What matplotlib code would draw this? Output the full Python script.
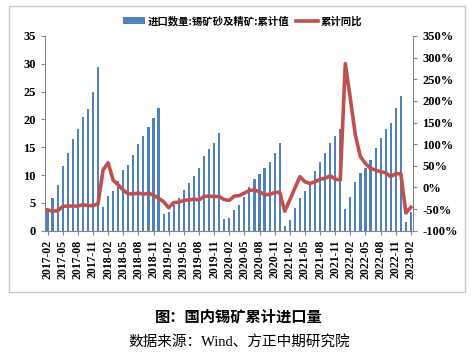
import matplotlib
matplotlib.use("Agg")
import matplotlib.pyplot as plt
from matplotlib.patches import Rectangle
from matplotlib.ticker import FuncFormatter

plt.rcParams['font.family'] = ['Noto Sans CJK SC', 'DejaVu Sans']

# 月份 2017-02 ... 2023-02
months = []
for y in range(2017, 2024):
    for m in range(1, 13):
        if (y == 2017 and m < 2) or (y == 2023 and m > 2):
            continue
        months.append(f"{y}-{m:02d}")

# 进口数量:锡矿砂及精矿:累计值 (万吨)
cum_import = [
    3.8, 5.8, 8.2, 11.6, 13.9, 16.4, 18.3, 20.5, 21.9, 24.9, 29.5,
    4.3, 6.3, 7.1, 8.9, 10.9, 11.8, 13.6, 15.5, 17.1, 18.6, 20.3, 22.1,
    3.0, 3.4, 4.6, 5.8, 7.3, 8.5, 9.8, 11.25, 13.4, 14.6, 15.7, 17.6,
    2.1, 2.3, 3.75, 4.7, 6.1, 7.8, 9.3, 10.2, 11.25, 12.3, 14.0, 15.7,
    0.9, 2.0, 4.0, 5.8, 7.1, 8.5, 10.7, 12.3, 13.9, 15.8, 17.0, 18.3,
    3.9, 6.0, 8.75, 10.3, 11.2, 12.7, 14.9, 16.7, 18.3, 19.4, 22.1, 24.2,
    1.5, 3.3,
]

# 累计同比 (%)
cum_yoy = [
    -52, -55, -54, -44, -43, -43, -43, -40, -42, -42, -38,
    40, 57, 17, 6, -6, -15, -15, -13, -16, -13, -18, -25,
    -33, -47, -35, -34, -30, -29, -27, -29, -21, -20, -21, -21,
    -28, -30, -20, -19, -13, -7, -6, -10, -17, -16, -12, -11,
    -55, -29, -2, 25, 13, 9, 13, 19, 21, 27, 19, 17,
    286, 205, 120, 71, 55, 44, 40, 36, 34, 25, 32, 31,
    -59, -46,
]

x = list(range(len(months)))
blue = '#4F81BD'
red = '#C0504D'
grey = '#868686'

fig = plt.figure(figsize=(4.73, 3.57), dpi=100)
fig.patches.append(Rectangle((9 / 473, 1 - 292 / 357), 456 / 473, 286 / 357,
                             transform=fig.transFigure, fill=False,
                             edgecolor='#C8C8C8', linewidth=1))

ax = fig.add_axes([0.0951, 0.3538, 0.779, 0.5454])
ax2 = ax.twinx()

bars = ax.bar(x, cum_import, width=0.42, color=blue, zorder=2,
              label='进口数量:锡矿砂及精矿:累计值')
line, = ax2.plot(x, cum_yoy, color=red, linewidth=2.6, zorder=3,
                 label='累计同比')

ax.set_xlim(-0.5, len(months) - 0.5)
ax.set_ylim(0, 35)
ax.set_yticks(range(0, 36, 5))
ax2.set_ylim(-100, 350)
ax2.set_yticks(range(-100, 351, 50))
ax2.yaxis.set_major_formatter(FuncFormatter(lambda v, p: f"{int(v)}%"))

ax.set_xticks(x[::3])
ax.set_xticklabels(months[::3], rotation=90, family='Liberation Serif',
                   fontweight='bold', fontsize=8.5)

for a in (ax, ax2):
    for s in a.spines.values():
        s.set_color(grey)
    a.spines['top'].set_visible(False)
    a.tick_params(colors='black', length=3, width=0.8)
    a.tick_params(axis='both', color=grey)
ax.spines['right'].set_visible(False)
ax2.spines['left'].set_visible(False)
ax2.spines['bottom'].set_visible(False)

for lab in ax.get_yticklabels() + ax2.get_yticklabels():
    lab.set_family('Liberation Serif')
    lab.set_fontweight('bold')
    lab.set_fontsize(9)

ax.set_zorder(ax2.get_zorder() - 1)
ax.patch.set_visible(True)
ax2.patch.set_visible(False)

fig.legend([bars, line], ['进口数量:锡矿砂及精矿:累计值', '累计同比'],
           loc='center', bbox_to_anchor=(0.513, 0.941), ncol=2,
           frameon=False, handlelength=2.1, handleheight=0.6,
           columnspacing=0.6, handletextpad=0.3,
           prop={'weight': 'bold', 'size': 7.5})

fig.text(0.505, 0.115, '图：国内锡矿累计进口量', ha='center', va='center',
         fontsize=11, fontweight='bold')
fig.text(0.505, 0.042, '数据来源：Wind、方正中期研究院', ha='center', va='center',
         fontsize=10.5, family=['Liberation Serif', 'Noto Sans CJK SC'])

fig.savefig('out.png', dpi=100, facecolor='white')
